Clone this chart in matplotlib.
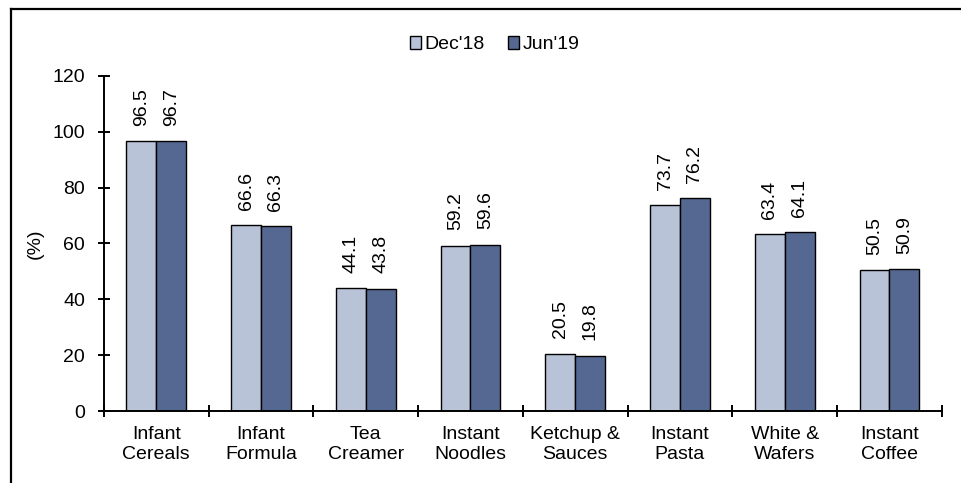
import numpy as np
import matplotlib
matplotlib.use("Agg")
import matplotlib.pyplot as plt
from matplotlib.lines import Line2D

plt.rcParams['font.family'] = ['Liberation Sans', 'DejaVu Sans']

# penetration by category, two survey rounds
categories = ["Infant\nCereals", "Infant\nFormula", "Tea\nCreamer", "Instant\nNoodles",
              "Ketchup &\nSauces", "Instant\nPasta", "White &\nWafers", "Instant\nCoffee"]
dec18 = [96.5, 66.6, 44.1, 59.2, 20.5, 73.7, 63.4, 50.5]
jun19 = [96.7, 66.3, 43.8, 59.6, 19.8, 76.2, 64.1, 50.9]
series_names = ["Dec'18", "Jun'19"]
yticks = [0, 20, 40, 60, 80, 100, 120]

c_dec = "#B8C3D8"
c_jun = "#556892"
fs = 14

fig = plt.figure(figsize=(9.62, 4.83), dpi=100)
ax = fig.add_axes([0.108, 0.149, 0.871, 0.694])

x = np.arange(len(categories))
w = 0.285
b1 = ax.bar(x - w / 2, dec18, w, color=c_dec, edgecolor="black", linewidth=1.0, label=series_names[0])
b2 = ax.bar(x + w / 2, jun19, w, color=c_jun, edgecolor="black", linewidth=1.0, label=series_names[1])

for bars, vals in ((b1, dec18), (b2, jun19)):
    for r, v in zip(bars, vals):
        ax.annotate(f"{v:.1f}", (r.get_x() + r.get_width() / 2, v), xytext=(0, 11),
                    textcoords="offset points", rotation=90, ha="center", va="bottom",
                    fontsize=fs)

ax.set_xlim(-0.5, len(categories) - 0.5)
ax.set_ylim(0, 120)
ax.set_yticks(yticks)
ax.set_xticks(np.arange(len(categories) + 1) - 0.5)
ax.set_xticklabels([])
ax.set_xticks(x, minor=True)
ax.set_xticklabels(categories, minor=True, fontsize=fs)
ax.tick_params(axis="x", which="minor", length=0, pad=11)
ax.tick_params(axis="x", which="major", direction="inout", length=9, width=1.4)
ax.tick_params(axis="y", direction="inout", length=9, width=1.4, labelsize=fs, pad=9)
for s in ("top", "right"):
    ax.spines[s].set_visible(False)
for s in ("left", "bottom"):
    ax.spines[s].set_linewidth(1.4)
ax.set_ylabel("(%)", fontsize=fs, labelpad=6)

fig.legend(loc="center", bbox_to_anchor=(0.514, 0.907), ncol=2, frameon=False,
           fontsize=fs, handlelength=0.6, handleheight=0.6, handletextpad=0.15,
           columnspacing=1.2)

# open frame: top and left edges only
fig.add_artist(Line2D([0.0115, 1.0], [0.981, 0.981], color="black", lw=1.6))
fig.add_artist(Line2D([0.0115, 0.0115], [0.0, 0.981], color="black", lw=1.6))

fig.savefig("out.png", dpi=100)
